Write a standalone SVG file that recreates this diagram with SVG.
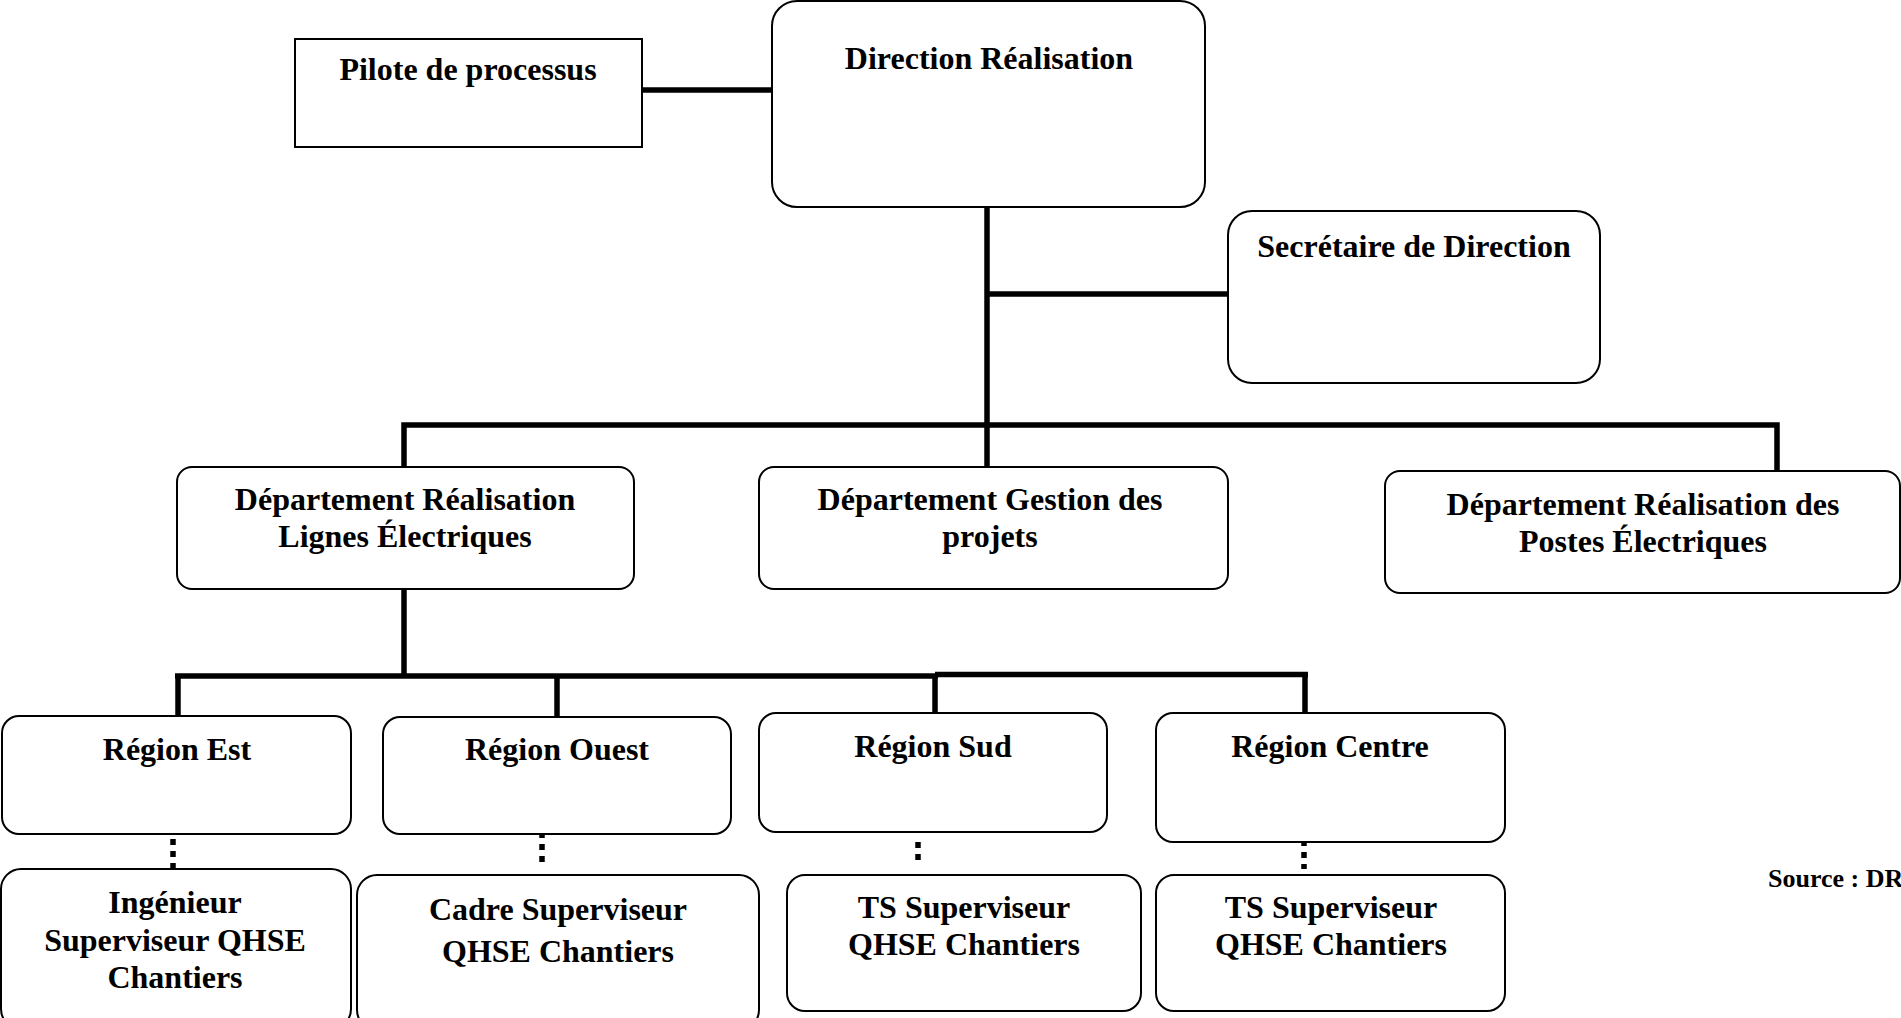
<svg xmlns="http://www.w3.org/2000/svg" width="1901" height="1018" viewBox="0 0 1901 1018">
  <style>
    .box { fill: #ffffff; stroke: #000000; stroke-width: 2; }
    .lbl { font-family: "Liberation Serif", "Times New Roman", serif; font-weight: bold; font-size: 32px; fill: #000000; text-anchor: middle; }
    .src { font-family: "Liberation Serif", "Times New Roman", serif; font-weight: bold; font-size: 26px; fill: #000000; }
    .link { fill: none; stroke: #000000; stroke-width: 5.5; stroke-linecap: butt; }
    .dots { fill: none; stroke: #000000; stroke-width: 5.5; stroke-dasharray: 6 6; }
  </style>
  <rect width="1901" height="1018" fill="#ffffff"/>

  <!-- connectors -->
  <g id="connectors">
    <line class="link" x1="642" y1="90" x2="772" y2="90"/>
    <line class="link" x1="987" y1="207" x2="987" y2="467"/>
    <line class="link" x1="987" y1="294" x2="1228" y2="294"/>
    <polyline class="link" points="404,467 404,425 1777,425 1777,471"/>
    <line class="link" x1="404" y1="589" x2="404" y2="676"/>
    <line class="link" x1="175" y1="676" x2="938" y2="676"/>
    <line class="link" x1="935" y1="674.5" x2="1308" y2="674.5"/>
    <line class="link" x1="178" y1="676" x2="178" y2="716"/>
    <line class="link" x1="557" y1="676" x2="557" y2="718"/>
    <line class="link" x1="935" y1="674" x2="935" y2="713"/>
    <line class="link" x1="1305" y1="674" x2="1305" y2="713"/>
    <line class="dots" x1="173" y1="839" x2="173" y2="869"/>
    <line class="dots" x1="542" y1="832" x2="542" y2="862"/>
    <line class="dots" x1="918" y1="842" x2="918" y2="866"/>
    <line class="dots" x1="1304" y1="840" x2="1304" y2="869"/>
  </g>

  <g id="pilote">
    <rect class="box" x="295" y="39" width="347" height="108"/>
    <text class="lbl" x="468" y="80">Pilote de processus</text>
  </g>
  <g id="direction">
    <rect class="box" x="772" y="1" width="433" height="206" rx="25" ry="25"/>
    <text class="lbl" x="989" y="69">Direction Réalisation</text>
  </g>
  <g id="secretaire">
    <rect class="box" x="1228" y="211" width="372" height="172" rx="24" ry="24"/>
    <text class="lbl" x="1414" y="257">Secrétaire de Direction</text>
  </g>
  <g id="dep-lignes">
    <rect class="box" x="177" y="467" width="457" height="122" rx="15" ry="15"/>
    <text class="lbl" x="405" y="510">Département Réalisation</text>
    <text class="lbl" x="405" y="547">Lignes Électriques</text>
  </g>
  <g id="dep-gestion">
    <rect class="box" x="759" y="467" width="469" height="122" rx="15" ry="15"/>
    <text class="lbl" x="990" y="510">Département Gestion des</text>
    <text class="lbl" x="990" y="547">projets</text>
  </g>
  <g id="dep-postes">
    <rect class="box" x="1385" y="471" width="515" height="122" rx="15" ry="15"/>
    <text class="lbl" x="1643" y="515">Département Réalisation des</text>
    <text class="lbl" x="1643" y="552">Postes Électriques</text>
  </g>

  <g id="region-est">
    <rect class="box" x="2" y="716" width="349" height="118" rx="17" ry="17"/>
    <text class="lbl" x="177" y="760">Région Est</text>
  </g>
  <g id="region-ouest">
    <rect class="box" x="383" y="717" width="348" height="117" rx="17" ry="17"/>
    <text class="lbl" x="557" y="760">Région Ouest</text>
  </g>
  <g id="region-sud">
    <rect class="box" x="759" y="713" width="348" height="119" rx="17" ry="17"/>
    <text class="lbl" x="933" y="757">Région Sud</text>
  </g>
  <g id="region-centre">
    <rect class="box" x="1156" y="713" width="349" height="129" rx="17" ry="17"/>
    <text class="lbl" x="1330" y="757">Région Centre</text>
  </g>

  <g id="qhse-est">
    <rect class="box" x="1" y="869" width="350" height="160" rx="20" ry="20"/>
    <text class="lbl" x="175" y="913">Ingénieur</text>
    <text class="lbl" x="175" y="951">Superviseur QHSE</text>
    <text class="lbl" x="175" y="988">Chantiers</text>
  </g>
  <g id="qhse-ouest">
    <rect class="box" x="357" y="875" width="402" height="155" rx="20" ry="20"/>
    <text class="lbl" x="558" y="920">Cadre Superviseur</text>
    <text class="lbl" x="558" y="962">QHSE Chantiers</text>
  </g>
  <g id="qhse-sud">
    <rect class="box" x="787" y="875" width="354" height="136" rx="18" ry="18"/>
    <text class="lbl" x="964" y="918">TS Superviseur</text>
    <text class="lbl" x="964" y="955">QHSE Chantiers</text>
  </g>
  <g id="qhse-centre">
    <rect class="box" x="1156" y="875" width="349" height="136" rx="18" ry="18"/>
    <text class="lbl" x="1331" y="918">TS Superviseur</text>
    <text class="lbl" x="1331" y="955">QHSE Chantiers</text>
  </g>

  <text class="src" x="1768" y="887">Source : DR</text>
</svg>
